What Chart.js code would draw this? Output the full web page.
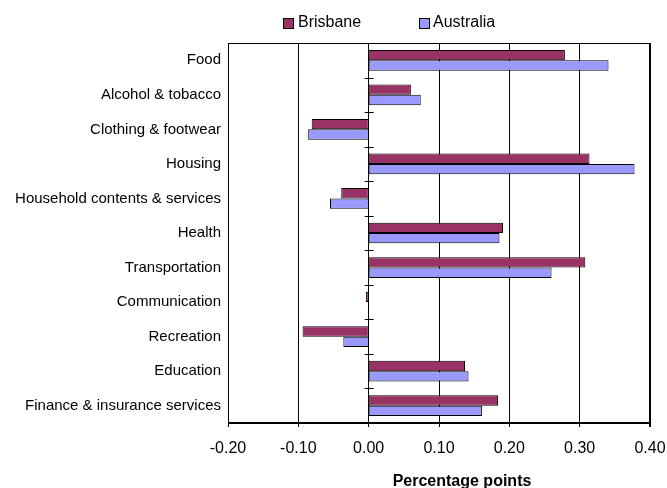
<!DOCTYPE html>
<html>
<head>
<meta charset="utf-8">
<script src="https://cdn.jsdelivr.net/npm/chart.js@4.4.1/dist/chart.umd.min.js"></script>
<style>
  body { margin: 0; background: #fff; }
  #wrap { position: relative; width: 667px; height: 488px; font-family: "Liberation Sans", Arial, sans-serif; }
  .leg { position: absolute; top: 13px; font-size: 16px; line-height: 18px; color: #000; }
  .box { position: absolute; top: 18px; width: 9px; height: 9px; border: 1px solid #000; }
</style>
</head>
<body>
<div id="wrap">
  <canvas id="myChart" width="667" height="488"></canvas>
  <div class="box" style="left:283px;background:#993366"></div>
  <div class="leg" style="left:298px">Brisbane</div>
  <div class="box" style="left:419px;background:#9999FF"></div>
  <div class="leg" style="left:433px">Australia</div>
</div>
<script>
// categories
const categories = [
  "Food",
  "Alcohol & tobacco",
  "Clothing & footwear",
  "Housing",
  "Household contents & services",
  "Health",
  "Transportation",
  "Communication",
  "Recreation",
  "Education",
  "Finance & insurance services",
];
// contributions, percentage points
const brisbane = [0.279, 0.06, -0.081, 0.314, -0.039, 0.191, 0.308, -0.004, -0.094, 0.137, 0.184];
const australia = [0.341, 0.074, -0.086, 0.378, -0.055, 0.186, 0.26, 0.0, -0.036, 0.142, 0.161];
const axisTitle = "Percentage points";

const font = "'Liberation Sans', Arial, sans-serif";

// frame, ticks on the zero line and the axis title
const extras = {
  id: "extras",
  afterDraw(chart) {
    const c = chart.ctx;
    const a = chart.chartArea;
    const x0 = chart.scales.x.getPixelForValue(0);
    const ys = chart.scales.y;
    c.save();
    c.strokeStyle = "#000";
    c.lineWidth = 1;
    c.strokeRect(a.left + 0.5, a.top + 0.5, a.right - a.left - 1, a.bottom - a.top - 1);
    c.beginPath();
    for (let i = 0; i < categories.length - 1; i++) {
      const y = Math.round((ys.getPixelForValue(i) + ys.getPixelForValue(i + 1)) / 2) + 0.5;
      c.moveTo(x0 - 4, y);
      c.lineTo(x0 + 5, y);
    }
    c.stroke();
    c.fillStyle = "#000";
    c.font = "bold 16px " + font;
    c.textAlign = "center";
    c.textBaseline = "middle";
    c.fillText(axisTitle, (a.left + a.right) / 2 + 23, 482);
    c.restore();
  },
};

const ctx = document.getElementById("myChart").getContext("2d");
const myChart = new Chart(ctx, {
  type: "bar",
  data: {
    labels: categories,
    datasets: [
      {
        label: "Brisbane",
        data: brisbane,
        backgroundColor: "#993366",
        borderColor: "#000",
        borderWidth: 1,
        borderSkipped: false,
      },
      {
        label: "Australia",
        data: australia,
        backgroundColor: "#9999FF",
        borderColor: "#000",
        borderWidth: 1,
        borderSkipped: false,
      },
    ],
  },
  options: {
    indexAxis: "y",
    responsive: false,
    animation: false,
    categoryPercentage: 0.6,
    barPercentage: 1,
    layout: { padding: { top: 43, left: 0, right: 17, bottom: 0 } },
    plugins: {
      legend: { display: false },
      tooltip: { enabled: false },
    },
    scales: {
      x: {
        min: -0.2,
        max: 0.4,
        ticks: {
          stepSize: 0.1,
          color: "#000",
          padding: 12,
          font: { family: font, size: 16 },
          callback: (v) => (Math.abs(v) < 1e-9 ? 0 : v).toFixed(2),
        },
        grid: {
          color: "#000",
          lineWidth: (t) => (t.index === 6 ? 2 : 1),
          tickLength: 4,
        },
        border: { color: "#000" },
        afterFit: (s) => {
          s.height = 65;
          s.paddingRight = 0;
          s.paddingLeft = 0;
        },
      },
      y: {
        ticks: {
          color: "#000",
          padding: 7,
          font: { family: font, size: 15 },
        },
        grid: { drawOnChartArea: false, drawTicks: false },
        border: { color: "#000" },
        afterFit: (s) => { s.width = 228; },
      },
    },
  },
  plugins: [extras],
});
</script>
</body>
</html>
